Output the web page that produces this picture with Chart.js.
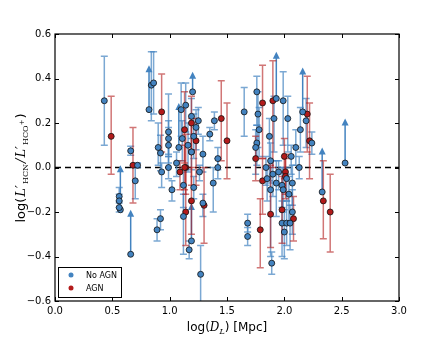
<!DOCTYPE html>
<html>
<head>
<meta charset="utf-8">
<script src="https://cdn.jsdelivr.net/npm/chart.js@4"></script>
<style>
  body { margin: 0; background: #fff; }
  #wrap { width: 443px; height: 346px; position: relative; }
</style>
</head>
<body>
<div id="wrap"><canvas id="myChart"></canvas></div>
<script>
// No AGN detections: x, y, upper error, lower error
const noAgnX = [0.43,0.56,0.56,0.56,0.66,0.72,0.70,0.84,0.86,0.90,0.92,0.93,0.89,0.92,0.99,0.99,0.99,0.99,1.02,1.10,1.14,1.11,1.19,1.25,1.23,1.21,1.19,1.29,1.35,1.39,1.42,1.42,1.26,1.12,1.21,1.38,1.29,1.12,1.17,1.27,1.65,1.68,1.68,1.76,1.77,1.78,1.76,1.75,1.84,1.85,1.88,1.93,1.89,1.91,1.87,1.88,1.99,2.03,2.06,2.10,2.14,2.13,2.19,2.24,1.98,2.02,2.00,2.07,2.05,1.98,1.99,2.07,2.02,1.90,1.95,2.04,1.06,1.16];
const noAgnY = [0.30,-0.13,-0.15,-0.18,0.075,0.01,-0.06,0.37,0.38,0.09,0.065,-0.02,-0.28,-0.23,0.16,0.13,0.10,0.00,-0.10,0.26,0.28,0.13,0.23,0.21,0.18,0.14,0.07,0.06,0.15,0.21,0.04,0.00,-0.02,-0.08,-0.09,-0.07,-0.16,-0.22,-0.37,-0.48,0.25,-0.25,-0.31,0.34,0.24,0.17,0.11,0.09,0.00,-0.05,-0.10,-0.07,-0.43,0.22,0.14,0.03,0.30,0.22,0.05,0.09,0.17,0.00,0.21,0.11,-0.25,-0.25,-0.29,-0.20,-0.25,-0.08,-0.10,-0.07,-0.05,-0.03,-0.02,-0.12,0.02,0.10];
const noAgnUp = [0.20,0.04,0.03,0.03,0.02,0.01,0.06,0.15,0.14,0.11,0.08,0.04,0.05,0.04,0.17,0.08,0.08,0.05,0.04,0.12,0.10,0.08,0.08,0.06,0.08,0.10,0.08,0.08,0.03,0.04,0.05,0.04,0.03,0.06,0.05,0.07,0.04,0.10,0.04,0.13,0.11,0.04,0.04,0.07,0.10,0.10,0.08,0.08,0.05,0.05,0.10,0.10,0.05,0.10,0.08,0.08,0.13,0.10,0.05,0.08,0.10,0.05,0.10,0.05,0.10,0.10,0.10,0.10,0.08,0.08,0.10,0.08,0.05,0.06,0.05,0.08,0.05,0.10];
const noAgnDown = [0.20,0.03,0.03,0.02,0.02,0.01,0.08,0.16,0.14,0.08,0.08,0.07,0.05,0.05,0.10,0.08,0.08,0.05,0.05,0.12,0.12,0.10,0.10,0.06,0.10,0.10,0.08,0.08,0.03,0.04,0.05,0.05,0.04,0.10,0.05,0.13,0.06,0.17,0.04,0.20,0.11,0.04,0.04,0.15,0.15,0.12,0.10,0.12,0.08,0.10,0.30,0.15,0.05,0.15,0.20,0.10,0.20,0.15,0.08,0.08,0.10,0.05,0.12,0.05,0.15,0.10,0.12,0.10,0.12,0.10,0.10,0.10,0.10,0.10,0.08,0.12,0.06,0.12];

// No AGN lower limits: x, y, arrow tip
const limitX = [0.57,0.66,0.82,1.08,1.20,1.19,1.93,2.16,2.33,2.53];
const limitY = [-0.19,-0.39,0.26,0.09,0.34,-0.33,0.31,0.25,-0.11,0.02];
const limitTo = [0.01,-0.19,0.46,0.29,0.43,-0.16,0.52,0.45,0.09,0.22];

// AGN: x, y, upper error, lower error
const agnX = [0.49,0.68,0.93,1.09,1.13,1.19,1.23,1.19,1.14,1.13,1.19,1.30,1.14,1.45,1.50,1.75,1.81,1.90,1.81,1.79,1.88,1.98,2.01,2.01,2.08,2.00,2.20,2.22,2.34,2.40];
const agnY = [0.14,0.01,0.25,-0.02,0.17,0.20,0.12,0.07,0.00,0.00,-0.15,-0.17,-0.20,0.22,0.12,0.04,0.29,0.30,-0.06,-0.28,-0.21,-0.19,-0.02,-0.04,-0.23,0.05,0.24,0.12,-0.15,-0.20];
const agnUp = [0.18,0.17,0.17,0.05,0.17,0.12,0.10,0.15,0.15,0.10,0.15,0.17,0.20,0.17,0.17,0.10,0.17,0.18,0.10,0.14,0.22,0.15,0.08,0.08,0.10,0.08,0.17,0.17,0.18,0.17];
const agnDown = [0.17,0.17,0.18,0.08,0.15,0.12,0.20,0.15,0.12,0.10,0.15,0.17,0.15,0.19,0.17,0.10,0.25,0.30,0.15,0.17,0.15,0.15,0.10,0.10,0.10,0.10,0.17,0.17,0.17,0.18];

const xTicks = [0, 0.5, 1, 1.5, 2, 2.5, 3];
const yTicks = [-0.6, -0.4, -0.2, 0, 0.2, 0.4, 0.6];

const BLUE = '#4383c0';
const RED = '#b31b1b';
const BLUE_BAR = 'rgba(67,131,192,0.7)';
const RED_BAR = 'rgba(179,27,27,0.6)';

function pts(xs, ys) {
  return xs.map((x, i) => ({ x: x, y: ys[i] }));
}

function fmt(v) {
  const s = Math.abs(v).toFixed(1);
  return v < 0 ? '\u2212' + s : s;
}

// draw a run of text pieces with different fonts / offsets, centred on cx
function drawRuns(ctx, runs, cx, cy) {
  let total = 0;
  runs.forEach(r => { ctx.font = r.font; r.w = ctx.measureText(r.text).width + (r.gap || 0); total += r.w; });
  let x = cx - total / 2;
  ctx.textBaseline = 'alphabetic';
  ctx.textAlign = 'left';
  runs.forEach(r => {
    ctx.font = r.font;
    ctx.fillText(r.text, x, cy + (r.dy || 0));
    x += r.w;
  });
}

const errorBars = {
  id: 'errorBars',
  beforeDatasetsDraw(chart) {
    const ctx = chart.ctx;
    const xs = chart.scales.x, ys = chart.scales.y;
    const area = chart.chartArea;
    ctx.save();
    ctx.beginPath();
    ctx.rect(area.left, area.top, area.right - area.left, area.bottom - area.top);
    ctx.clip();

    // dashed zero line
    ctx.strokeStyle = '#000';
    ctx.lineWidth = 1.5;
    ctx.setLineDash([6, 4]);
    ctx.beginPath();
    ctx.moveTo(xs.getPixelForValue(0), ys.getPixelForValue(0));
    ctx.lineTo(xs.getPixelForValue(3), ys.getPixelForValue(0));
    ctx.stroke();
    ctx.setLineDash([]);

    chart.data.datasets.forEach(ds => {
      ctx.strokeStyle = ds.barColor;
      ctx.fillStyle = ds.barColor;
      ctx.lineWidth = 1.5;
      ds.data.forEach((p, i) => {
        const px = xs.getPixelForValue(p.x);
        if (ds.arrowTo) {
          const py0 = ys.getPixelForValue(p.y);
          const py1 = ys.getPixelForValue(ds.arrowTo[i]);
          ctx.beginPath();
          ctx.moveTo(px, py0);
          ctx.lineTo(px, py1 + 5);
          ctx.stroke();
          ctx.beginPath();
          ctx.moveTo(px, py1);
          ctx.lineTo(px - 3.5, py1 + 7);
          ctx.lineTo(px + 3.5, py1 + 7);
          ctx.closePath();
          ctx.fill();
        } else {
          const top = ys.getPixelForValue(p.y + ds.errUp[i]);
          const bot = ys.getPixelForValue(p.y - ds.errDown[i]);
          ctx.beginPath();
          ctx.moveTo(px, top);
          ctx.lineTo(px, bot);
          ctx.moveTo(px - 3.5, top);
          ctx.lineTo(px + 3.5, top);
          ctx.moveTo(px - 3.5, bot);
          ctx.lineTo(px + 3.5, bot);
          ctx.stroke();
        }
      });
    });
    ctx.restore();
  },
  afterDraw(chart) {
    const ctx = chart.ctx;
    const xs = chart.scales.x, ys = chart.scales.y;
    const a = chart.chartArea;
    ctx.save();
    ctx.strokeStyle = '#000';
    ctx.lineWidth = 1;
    // inward ticks on all four sides
    ctx.beginPath();
    xTicks.forEach(v => {
      const px = Math.round(xs.getPixelForValue(v)) + 0.5;
      ctx.moveTo(px, a.bottom); ctx.lineTo(px, a.bottom - 4);
      ctx.moveTo(px, a.top); ctx.lineTo(px, a.top + 4);
    });
    yTicks.forEach(v => {
      const py = Math.round(ys.getPixelForValue(v)) + 0.5;
      ctx.moveTo(a.left, py); ctx.lineTo(a.left + 4, py);
      ctx.moveTo(a.right, py); ctx.lineTo(a.right - 4, py);
    });
    ctx.stroke();
    ctx.lineWidth = 1.2;
    ctx.strokeRect(a.left, a.top, a.right - a.left, a.bottom - a.top);

    // legend box
    const lx = 58, ly = 267, lw = 63, lh = 30;
    ctx.fillStyle = '#fff';
    ctx.fillRect(lx, ly, lw, lh);
    ctx.lineWidth = 1;
    ctx.strokeRect(lx + 0.5, ly + 0.5, lw, lh);
    [['No AGN', BLUE, 275], ['AGN', RED, 288]].forEach(e => {
      ctx.fillStyle = e[1];
      ctx.beginPath();
      ctx.arc(71, e[2], 2.5, 0, Math.PI * 2);
      ctx.fill();
      ctx.fillStyle = '#000';
      ctx.font = '8px "DejaVu Sans"';
      ctx.textAlign = 'left';
      ctx.textBaseline = 'middle';
      ctx.fillText(e[0], 86, e[2] + 0.5);
    });

    // axis titles
    ctx.fillStyle = '#000';
    drawRuns(ctx, [
      { text: 'log(', font: '12px "DejaVu Sans"' },
      { text: 'D', font: 'italic 12px "DejaVu Serif"' },
      { text: 'L', font: 'italic 8px "DejaVu Serif"', dy: 3 },
      { text: ')', font: '12px "DejaVu Sans"' },
      { text: ' [Mpc]', font: '12px "DejaVu Sans"' }
    ], 227, 331);

    ctx.translate(21, 168);
    ctx.rotate(-Math.PI / 2);
    drawRuns(ctx, [
      { text: 'log(', font: '13px "DejaVu Sans"', gap: 1 },
      { text: 'L\u2032', font: 'italic 13px "DejaVu Serif"', gap: 1 },
      { text: 'HCN', font: '8px "DejaVu Serif"', dy: 3, gap: 1 },
      { text: '/', font: 'italic 13px "DejaVu Serif"', gap: 1 },
      { text: 'L\u2032', font: 'italic 13px "DejaVu Serif"', gap: 1 },
      { text: 'HCO', font: '8px "DejaVu Serif"', dy: 3 },
      { text: '+', font: '7px "DejaVu Serif"', dy: -1, gap: 1 },
      { text: ')', font: '13px "DejaVu Sans"' }
    ], 0, 4);
    ctx.restore();
  }
};

const ctx = document.getElementById('myChart').getContext('2d');
const chart = new Chart(ctx, {
  type: 'scatter',
  data: {
    datasets: [
      {
        label: 'No AGN',
        data: pts(noAgnX, noAgnY),
        errUp: noAgnUp,
        errDown: noAgnDown,
        barColor: BLUE_BAR,
        backgroundColor: BLUE,
        borderColor: '#111',
        borderWidth: 0.8,
        pointRadius: 3
      },
      {
        label: 'No AGN limit',
        data: pts(limitX, limitY),
        arrowTo: limitTo,
        barColor: BLUE,
        backgroundColor: BLUE,
        borderColor: '#111',
        borderWidth: 0.8,
        pointRadius: 3
      },
      {
        label: 'AGN',
        data: pts(agnX, agnY),
        errUp: agnUp,
        errDown: agnDown,
        barColor: RED_BAR,
        backgroundColor: RED,
        borderColor: '#111',
        borderWidth: 0.8,
        pointRadius: 3
      }
    ]
  },
  options: {
    responsive: true,
    maintainAspectRatio: false,
    animation: false,
    layout: { padding: { top: 34, right: 44, left: 0, bottom: 0 } },
    plugins: { legend: { display: false }, tooltip: { enabled: false } },
    scales: {
      x: {
        type: 'linear',
        min: 0, max: 3,
        afterFit: s => { s.height = 45; },
        afterBuildTicks: s => { s.ticks = xTicks.map(v => ({ value: v })); },
        grid: { display: false, drawTicks: false },
        border: { display: false },
        ticks: { color: '#000', font: { family: 'DejaVu Sans', size: 10 }, padding: 4, maxRotation: 0, callback: v => fmt(v) }
      },
      y: {
        type: 'linear',
        min: -0.6, max: 0.6,
        afterFit: s => { s.width = 55; },
        afterBuildTicks: s => { s.ticks = yTicks.map(v => ({ value: v })); },
        grid: { display: false, drawTicks: false },
        border: { display: false },
        ticks: { color: '#000', font: { family: 'DejaVu Sans', size: 10 }, padding: 4, callback: v => fmt(v) }
      }
    }
  },
  plugins: [errorBars]
});
</script>
</body>
</html>
